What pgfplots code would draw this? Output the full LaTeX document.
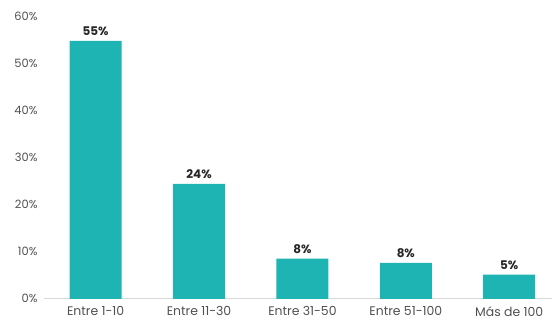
\documentclass[border=0pt]{standalone}
\usepackage{fontspec}
\setmainfont{Poppins}
\usepackage{pgfplots}
\pgfplotsset{compat=1.18}
\definecolor{barteal}{RGB}{31,180,180}
\definecolor{ticktext}{RGB}{80,80,80}
\begin{document}
\begin{tikzpicture}
\begin{axis}[
  name=ax,
  scale only axis,
  width=508bp, height=283bp,
  ymin=0, ymax=60,
  ytick={0,10,20,30,40,50,60},
  yticklabel={\pgfmathprintnumber{\tick}\%},
  xmin=-0.5, xmax=4.41,
  xtick=data,
  xticklabels={Entre 1-10,Entre 11-30,Entre 31-50,Entre 51-100,Más de 100},
  axis lines*=left,
  y axis line style={draw=none},
  x axis line style={draw=black!15, line width=0.8pt},
  major tick length=0pt,
  /pgf/number format/assume math mode=true,
  yticklabel style={font=\fontsize{11.5}{13}\selectfont, text=ticktext, xshift=-3bp},
  xticklabel style={font=\fontsize{12.5}{14}\selectfont, text=ticktext, yshift=-4bp},
  ybar,
  bar width=52bp,
  clip=false,
  nodes near coords,
  point meta=explicit symbolic,
  every node near coord/.append style={font=\fontsize{12}{14}\selectfont\bfseries, text=black!85, anchor=south, yshift=2bp},
]
\addplot[fill=barteal, draw=none] coordinates {
  (0,54.7) [55\%]
  (1,24.4) [24\%]
  (2,8.5) [8\%]
  (3,7.6) [8\%]
  (4,5.1) [5\%]
};
\end{axis}
\path[use as bounding box] ([shift={(-44bp,-24bp)}]ax.south west) rectangle ([shift={(0bp,16bp)}]ax.north east);
\end{tikzpicture}
\end{document}
